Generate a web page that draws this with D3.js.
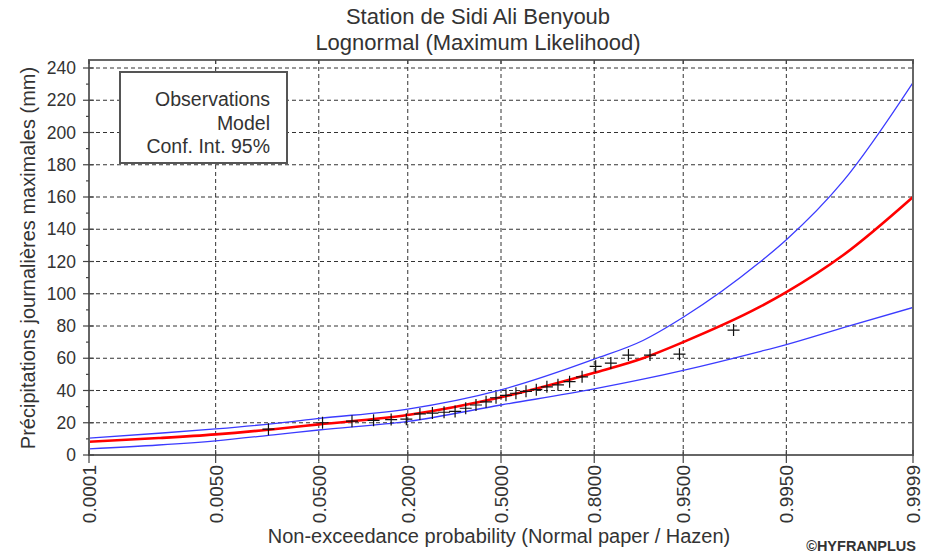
<!DOCTYPE html>
<html>
<head>
<meta charset="utf-8">
<script src="https://cdn.jsdelivr.net/npm/d3@7"></script>
<style>
  body { margin: 0; background: #fff; }
  svg text { font-family: "Liberation Sans", Arial, sans-serif; fill: #333; }
</style>
</head>
<body>
<div id="chart"></div>
<script>
// axis ticks
const probTicks = [0.0001, 0.005, 0.05, 0.2, 0.5, 0.8, 0.95, 0.995, 0.9999];
const probTickLabels = ['0.0001', '0.0050', '0.0500', '0.2000', '0.5000', '0.8000', '0.9500', '0.9950', '0.9999'];
const yTicks = [0, 20, 40, 60, 80, 100, 120, 140, 160, 180, 200, 220, 240];
const yMinorTicks = [10, 30, 50, 70, 90, 110, 130, 150, 170, 190, 210, 230];

// observations (Hazen plotting positions, n = 28)
const obsProb = [0.0179, 0.0536, 0.0893, 0.125, 0.1607, 0.1964, 0.2321, 0.2679, 0.3036, 0.3393,
    0.375, 0.4107, 0.4464, 0.4821, 0.5179, 0.5536, 0.5893, 0.625, 0.6607, 0.6964,
    0.7321, 0.7679, 0.8036, 0.8393, 0.875, 0.9107, 0.9464, 0.9821];
const obsValue = [16, 20, 21, 21.5, 22, 22.2, 25.5, 26, 26.5, 27,
    29, 31, 33, 35.5, 37, 38.3, 39.5, 40.5, 42.3, 43.5,
    45.5, 48.5, 55, 57, 62, 62, 62.5, 77.5];

// model and 95% confidence interval
const curveProb = [0.0001, 0.001, 0.005, 0.02, 0.05, 0.2, 0.5, 0.8, 0.9, 0.95, 0.99, 0.995, 0.999, 0.9999];
const modelValue = [8.2, 10.5, 12.8, 16, 19, 24.8, 35.8, 51, 60, 70, 91.5, 101, 124, 160];
const upperValue = [10.5, 13.5, 16.2, 19.5, 22.7, 28.5, 40.4, 59.4, 71, 85.4, 119, 133.5, 170, 231];
const lowerValue = [3.8, 6.2, 8.8, 12.5, 15.5, 20.8, 31, 41, 47, 52.5, 64, 68.5, 79, 91.5];

const width = 929, height = 554;
const plotLeft = 89, plotRight = 913, plotTop = 60, plotBottom = 455;

// inverse normal CDF (Acklam) for normal probability paper
function probit(p) {
    const a = [-39.6968302866538, 220.946098424521, -275.928510446969, 138.357751867269, -30.6647980661472, 2.50662827745924];
    const b = [-54.4760987982241, 161.585836858041, -155.698979859887, 66.8013118877197, -13.2806815528857];
    const c = [-0.00778489400243029, -0.322396458041136, -2.40075827716184, -2.54973253934373, 4.37466414146497, 2.93816398269878];
    const d = [0.00778469570904146, 0.32246712907004, 2.445134137143, 3.75440866190742];
    const pl = 0.02425;
    let q, r;
    if (p < pl) {
        q = Math.sqrt(-2 * Math.log(p));
        return (((((c[0] * q + c[1]) * q + c[2]) * q + c[3]) * q + c[4]) * q + c[5]) / ((((d[0] * q + d[1]) * q + d[2]) * q + d[3]) * q + 1);
    } else if (p <= 1 - pl) {
        q = p - 0.5; r = q * q;
        return (((((a[0] * r + a[1]) * r + a[2]) * r + a[3]) * r + a[4]) * r + a[5]) * q / (((((b[0] * r + b[1]) * r + b[2]) * r + b[3]) * r + b[4]) * r + 1);
    }
    q = Math.sqrt(-2 * Math.log(1 - p));
    return -(((((c[0] * q + c[1]) * q + c[2]) * q + c[3]) * q + c[4]) * q + c[5]) / ((((d[0] * q + d[1]) * q + d[2]) * q + d[3]) * q + 1);
}

const x = d3.scaleLinear().domain([probit(0.0001), probit(0.9999)]).range([plotLeft, plotRight]);
const y = d3.scaleLinear().domain([0, 240]).range([plotBottom, 68]);
const px = p => x(probit(p));

const svg = d3.select('#chart').append('svg')
    .attr('width', width)
    .attr('height', height);

// titles
svg.append('text').attr('x', 478).attr('y', 24).attr('text-anchor', 'middle')
    .style('font-size', '22px').text('Station de Sidi Ali Benyoub');
svg.append('text').attr('x', 478).attr('y', 50).attr('text-anchor', 'middle')
    .style('font-size', '22px').text('Lognormal (Maximum Likelihood)');

// grid
const grid = svg.append('g')
    .attr('stroke', '#333')
    .attr('stroke-width', 1)
    .attr('stroke-dasharray', '4,3');
grid.selectAll('.hg')
    .data(yTicks.filter(v => v > 0))
    .enter().append('line')
    .attr('x1', plotLeft).attr('x2', plotRight)
    .attr('y1', d => y(d)).attr('y2', d => y(d));
grid.selectAll('.vg')
    .data(probTicks.slice(1, -1))
    .enter().append('line')
    .attr('x1', d => px(d)).attr('x2', d => px(d))
    .attr('y1', plotTop).attr('y2', plotBottom);

// legend box
const legend = svg.append('g');
legend.append('rect')
    .attr('x', 120).attr('y', 72).attr('width', 167).attr('height', 91)
    .attr('fill', '#fff').attr('stroke', '#555').attr('stroke-width', 2);
['Observations', 'Model', 'Conf. Int. 95%'].forEach((t, i) => {
    legend.append('text')
        .attr('x', 270).attr('y', 106 + i * 23.5)
        .attr('text-anchor', 'end')
        .style('font-size', '19.5px')
        .text(t);
});

// curves
svg.append('clipPath').attr('id', 'clip')
    .append('rect').attr('x', plotLeft).attr('y', plotTop)
    .attr('width', plotRight - plotLeft).attr('height', plotBottom - plotTop);
const plot = svg.append('g').attr('clip-path', 'url(#clip)');

const line = d3.line()
    .x(d => px(d[0]))
    .y(d => y(d[1]))
    .curve(d3.curveMonotoneX);

plot.append('path')
    .datum(d3.zip(curveProb, upperValue))
    .attr('d', line).attr('fill', 'none').attr('stroke', '#3b3bff').attr('stroke-width', 1.3);
plot.append('path')
    .datum(d3.zip(curveProb, lowerValue))
    .attr('d', line).attr('fill', 'none').attr('stroke', '#3b3bff').attr('stroke-width', 1.3);
plot.append('path')
    .datum(d3.zip(curveProb, modelValue))
    .attr('d', line).attr('fill', 'none').attr('stroke', '#ff0000').attr('stroke-width', 2.6);

// observations
plot.selectAll('.obs')
    .data(d3.zip(obsProb, obsValue))
    .enter().append('path')
    .attr('d', d => {
        const cx = px(d[0]), cy = y(d[1]);
        return `M${cx - 6},${cy}H${cx + 6}M${cx},${cy - 6}V${cy + 6}`;
    })
    .attr('stroke', '#111')
    .attr('stroke-width', 1.2);

// frame
svg.append('rect')
    .attr('x', plotLeft).attr('y', plotTop)
    .attr('width', plotRight - plotLeft).attr('height', plotBottom - plotTop)
    .attr('fill', 'none').attr('stroke', '#666').attr('stroke-width', 2);

// y axis ticks and labels
const yAxis = svg.append('g');
yAxis.selectAll('.yt')
    .data(yTicks)
    .enter().append('line')
    .attr('x1', plotLeft - 6).attr('x2', plotLeft + 5)
    .attr('y1', d => y(d)).attr('y2', d => y(d))
    .attr('stroke', '#444').attr('stroke-width', 1.2);
yAxis.selectAll('.ymt')
    .data(yMinorTicks)
    .enter().append('line')
    .attr('x1', plotLeft - 3).attr('x2', plotLeft)
    .attr('y1', d => y(d)).attr('y2', d => y(d))
    .attr('stroke', '#444').attr('stroke-width', 1.2);
yAxis.selectAll('.yl')
    .data(yTicks)
    .enter().append('text')
    .attr('x', 76).attr('y', d => y(d) + 6)
    .attr('text-anchor', 'end')
    .style('font-size', '17.5px')
    .text(d => d);

// x axis ticks and labels
const xAxis = svg.append('g');
xAxis.selectAll('.xt')
    .data(probTicks)
    .enter().append('line')
    .attr('x1', d => px(d)).attr('x2', d => px(d))
    .attr('y1', plotBottom - 5).attr('y2', plotBottom + 8)
    .attr('stroke', '#444').attr('stroke-width', 1.2);
xAxis.selectAll('.xtt')
    .data(probTicks)
    .enter().append('line')
    .attr('x1', d => px(d)).attr('x2', d => px(d))
    .attr('y1', plotTop).attr('y2', plotTop + 4)
    .attr('stroke', '#444').attr('stroke-width', 1.2);
xAxis.selectAll('.xl')
    .data(probTicks)
    .enter().append('text')
    .attr('transform', d => `translate(${px(d) + 7},465) rotate(-90)`)
    .attr('text-anchor', 'end')
    .style('font-size', '19px')
    .text((d, i) => probTickLabels[i]);

// axis titles
svg.append('text')
    .attr('transform', 'translate(35,258) rotate(-90)')
    .attr('text-anchor', 'middle')
    .style('font-size', '20px')
    .text('Précipitations journalières maximales (mm)');
svg.append('text')
    .attr('x', 499).attr('y', 543)
    .attr('text-anchor', 'middle')
    .style('font-size', '20px')
    .text('Non-exceedance probability (Normal paper / Hazen)');
svg.append('text')
    .attr('x', 916).attr('y', 551)
    .attr('text-anchor', 'end')
    .style('font-size', '14.5px').style('font-weight', 'bold')
    .text('©HYFRANPLUS');
</script>
</body>
</html>
